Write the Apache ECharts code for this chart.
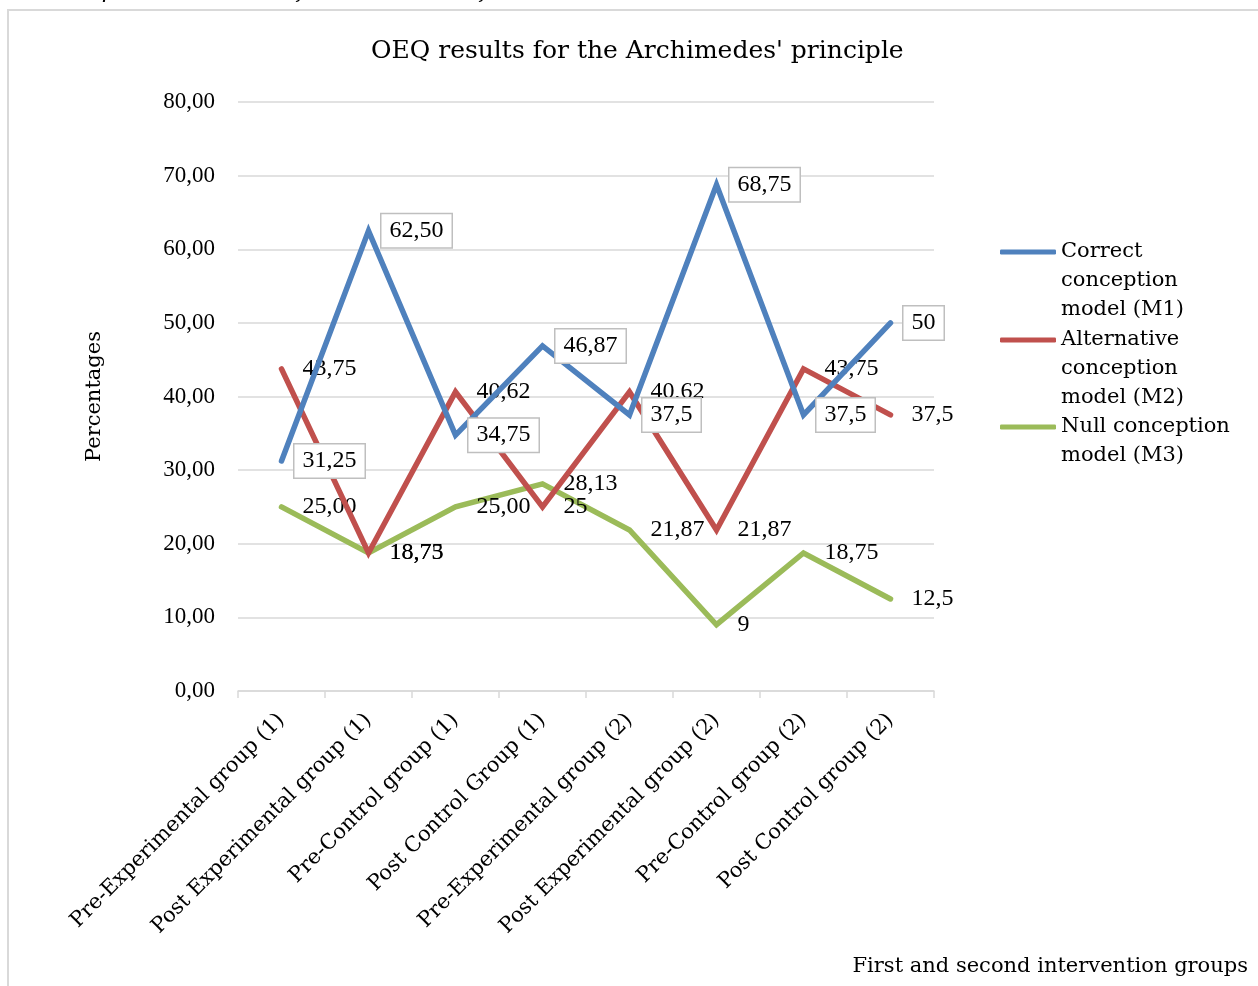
<!DOCTYPE html>
<html>
<head>
<meta charset="utf-8">
<script src="https://cdn.jsdelivr.net/npm/echarts@6/dist/echarts.min.js"></script>
<style>
html,body{margin:0;padding:0;background:#fff;}
#chart{width:1258px;height:986px;}
</style>
</head>
<body>
<div id="chart"></div>
<script>
var categories = ['Pre-Experimental group (1)','Post Experimental group (1)','Pre-Control group (1)','Post Control Group (1)','Pre-Experimental group (2)','Post Experimental group (2)','Pre-Control group (2)','Post Control group (2)'];
var seriesNames = ['Correct conception model (M1)','Alternative conception model (M2)','Null conception model (M3)'];
var m1Values = [31.25, 62.5, 34.75, 46.87, 37.5, 68.75, 37.5, 50];
var m2Values = [43.75, 18.75, 40.62, 25, 40.62, 21.87, 43.75, 37.5];
var m3Values = [25, 18.75, 25, 28.13, 21.87, 9, 18.75, 12.5];
var m1Labels = ['31,25','62,50','34,75','46,87','37,5','68,75','37,5','50'];
var m2Labels = ['43,75','18,75','40,62','25','40,62','21,87','43,75','37,5'];
var m3Labels = ['25,00','18,73','25,00','28,13','21,87','9','18,75','12,5'];
var yTicks = {min:0, max:80, interval:10};
var titleText = "OEQ results for the Archimedes' principle";
var captionText = 'Pre- and post-test results from the OEQ after intervention Data 2';
var xAxisTitle = 'First and second intervention groups';
var yAxisTitle = 'Percentages';
var legendLines = [['Correct','conception','model (M1)'],['Alternative','conception','model (M2)'],['Null conception','model (M3)']];

var FONT = '"DejaVu Serif", serif';
var NUMFONT = '"Liberation Serif", serif';
var colors = ['#4F81BD','#C0504D','#9BBB59'];

function mkData(vals, labels){
  return vals.map(function(v,i){ return {value:v, label:{formatter: labels[i]}}; });
}
function mkSeries(idx, vals, labels, boxed){
  return {
    name: seriesNames[idx], type:'line', data: mkData(vals, labels),
    symbol:'circle', symbolSize:0.01, showSymbol:true,
    lineStyle:{width:5.5, color:colors[idx], cap:'round', join:'miter'},
    itemStyle:{color:colors[idx]},
    emphasis:{disabled:true},
    z: 3-idx,
    label:{show:true, position:'right', distance:13, color:'#000', fontFamily:NUMFONT, fontSize:24,
      padding:[5,8,4,8],
      backgroundColor: boxed ? '#fff':'transparent',
      borderColor: boxed ? '#bfbfbf':'transparent', borderWidth: boxed?1.5:0},
    labelLayout:{hideOverlap:false}
  };
}
var legendTops = [252, 340, 427];
var LH = 29;
var legends = seriesNames.map(function(n,i){
  var lines = legendLines[i];
  var blanks = [];
  for (var k=0;k<lines.length-1;k++) blanks.push('');
  var txt = blanks.concat(lines).join('\n');
  var total = (2*lines.length-1)*LH;
  return {
    data:[n], left:1000, top: legendTops[i] - total/2, padding:0,
    orient:'vertical', icon:'roundRect', itemWidth:56, itemHeight:5,
    selectedMode:false,
    formatter: function(){ return txt; },
    textStyle:{fontFamily:FONT, fontSize:21, color:'#000', lineHeight:LH}
  };
});

var chart = echarts.init(document.getElementById('chart'));
chart.setOption({
  backgroundColor:'#fff',
  animation:false,
  color: colors,
  title:{text:titleText, left:366, top:34, textStyle:{fontFamily:FONT, fontSize:25, fontWeight:'normal', color:'#000'}},
  legend: legends,
  grid:{left:238, right:324, top:102, bottom:295, containLabel:false},
  xAxis:{type:'category', data:categories, boundaryGap:true,
    axisLine:{lineStyle:{color:'#d9d9d9', width:1.5}},
    axisTick:{show:true, length:7, lineStyle:{color:'#d9d9d9', width:1.5}},
    axisLabel:{rotate:45, interval:0, margin:26, color:'#000', fontFamily:FONT, fontSize:21}},
  yAxis:{type:'value', min:yTicks.min, max:yTicks.max, interval:yTicks.interval,
    name:yAxisTitle, nameLocation:'middle', nameGap:133, nameRotate:90,
    nameTextStyle:{fontFamily:FONT, fontSize:21, color:'#000'},
    axisLine:{show:false}, axisTick:{show:false},
    splitLine:{lineStyle:{color:'#d9d9d9', width:1.5}},
    axisLabel:{margin:23, color:'#000', fontFamily:NUMFONT, fontSize:23,
      formatter:function(v){ return v.toFixed(2).replace('.',','); }}},
  graphic:[
    {type:'rect', shape:{x:8, y:10, width:1400, height:1100}, style:{fill:'none', stroke:'#d9d9d9', lineWidth:2}, z:-10, silent:true},
    {type:'text', x:-4, y:3, style:{text:captionText, font:'italic 23px "DejaVu Serif", serif', fill:'#000', verticalAlign:'bottom'}},
    {type:'text', x:1248, y:967, style:{text:xAxisTitle, font:'21px "DejaVu Serif", serif', fill:'#000', align:'right', verticalAlign:'middle'}}
  ],
  series:[
    mkSeries(0, m1Values, m1Labels, true),
    mkSeries(1, m2Values, m2Labels, false),
    mkSeries(2, m3Values, m3Labels, false)
  ]
});
</script>
</body>
</html>
